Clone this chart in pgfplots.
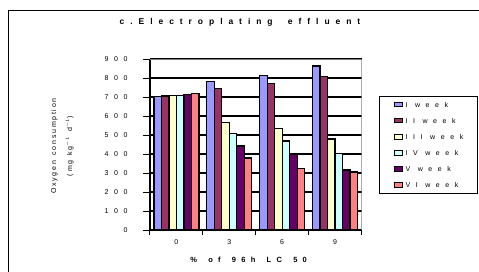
\documentclass[border=0pt]{standalone}
\usepackage{fontspec}
\setmainfont{Liberation Sans}
\newfontfamily\spc[LetterSpace=80]{Liberation Sans}
\newfontfamily\spct[LetterSpace=70]{Liberation Sans}
\newfontfamily\spcy[LetterSpace=25]{Liberation Sans}
\usepackage{pgfplots}
\pgfplotsset{compat=1.18}
\definecolor{wI}{HTML}{9999FF}
\definecolor{wII}{HTML}{993366}
\definecolor{wIII}{HTML}{FFFFCC}
\definecolor{wIV}{HTML}{CCFFFF}
\definecolor{wV}{HTML}{660066}
\definecolor{wVI}{HTML}{FF8080}
\pgfplotstableread{
x I II III IV V VI
0 702 705 710 710 714 717
1 781 746 567 509 442 379
2 814 772 535 468 398 325
3 863 810 479 404 316 305
}\datatable
\begin{document}
\begin{tikzpicture}[x=1pt,y=1pt]
\path[use as bounding box] (-150,-41) rectangle (329,230);
\clip (-150,-41) rectangle (329,230);
\draw[line width=1pt] (-141,-60) -- (-141,219.3) -- (340,219.3);
\begin{axis}[
  at={(0,0)}, anchor=south west,
  scale only axis, width=211.5pt, height=171pt,
  ybar=0pt, bar width=7.5pt,
  xmin=-0.5, xmax=3.5, ymin=0, ymax=900,
  ytick distance=100,
  xtick={0,1,2,3}, xticklabels={0,3,6,9},
  minor xtick={-0.5,0.5,1.5,2.5,3.5},
  axis lines=left,
  axis line style={-, black, line width=1.2pt},
  tick align=outside,
  major x tick style={draw=none},
  minor x tick style={black, line width=1pt},
  minor tick length=5pt,
  major tick length=7pt,
  y tick style={black, line width=1pt},
  ymajorgrids, grid style={black, line width=1.2pt},
  /pgf/number format/assume math mode=true,
  /pgf/number format/1000 sep={},
  yticklabel style={font=\spc\fontsize{7}{8}\selectfont, xshift=-12pt},
  xticklabel style={font=\spc\fontsize{7}{8}\selectfont, yshift=1pt},
  title={c.Electroplating \hspace{7pt}effluent},
  title style={font=\spct\bfseries\fontsize{8.5}{10}\selectfont, at={(rel axis cs:0.4255,1.182)}, anchor=center},
  xlabel={\% \hspace{4pt}of \hspace{4pt}96h \hspace{4pt}LC \hspace{4pt}50},
  xlabel style={font=\spct\bfseries\fontsize{7.5}{9}\selectfont, at={(rel axis cs:0.466,-0.175)}, anchor=center},
  ylabel={Oxygen \hspace{2pt}consumption\\(mg \hspace{1.5pt}kg$^{-1}$ \hspace{1.5pt}d$^{-1}$)},
  ylabel style={font=\spcy\fontsize{7}{16}\selectfont, align=center, at={(rel axis cs:-0.415,0.491)}, anchor=center},
  every axis plot post/.append style={draw=black, line width=1.2pt},
  legend image code/.code={\path (-1pt,0pt) (10pt,0pt); \draw[#1, line width=0.9pt] (0pt,-2pt) rectangle (8pt,2.5pt);},
  legend cell align=left,
  legend style={at={(rel axis cs:1.0827,0.785)}, anchor=north west,
    draw=black, line width=0.7pt, font=\spc\fontsize{7}{8}\selectfont,
    inner xsep=14pt, inner ysep=5.8pt, row sep=10.6pt,
    nodes={inner sep=0pt, text height=5pt, text depth=0pt},
    /tikz/every odd column/.append style={column sep=0pt}},
]
\addplot[fill=wI] table[x=x,y=I] {\datatable};
\addplot[fill=wII] table[x=x,y=II] {\datatable};
\addplot[fill=wIII] table[x=x,y=III] {\datatable};
\addplot[fill=wIV] table[x=x,y=IV] {\datatable};
\addplot[fill=wV] table[x=x,y=V] {\datatable};
\addplot[fill=wVI] table[x=x,y=VI] {\datatable};
\legend{I week, II week, III week, IV week, V week, VI week}
\draw[gray, line width=1.3pt] (rel axis cs:0,1) -- (rel axis cs:1,1) -- (rel axis cs:1,0);
\end{axis}
\end{tikzpicture}
\end{document}
